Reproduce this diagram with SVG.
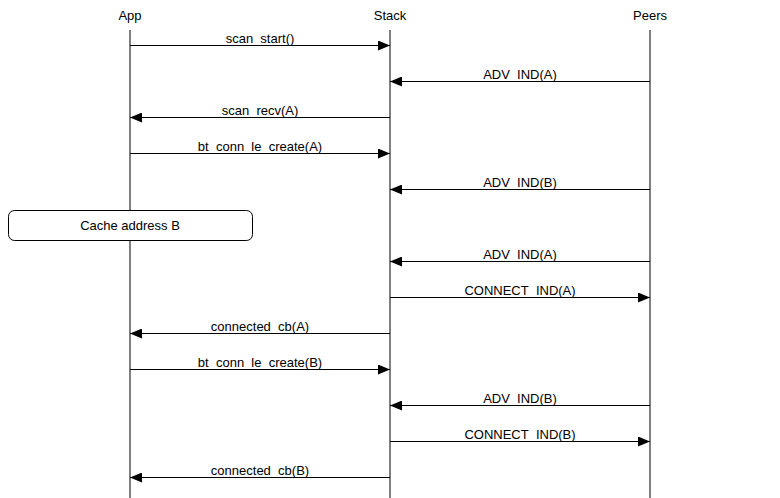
<svg xmlns="http://www.w3.org/2000/svg" width="780" height="498" viewBox="0 0 780 498">
<defs><marker id="ah" markerWidth="12" markerHeight="10" refX="12" refY="5" orient="auto" markerUnits="userSpaceOnUse"><path d="M0,0 L12,5 L0,10 Z" fill="#000"/></marker></defs>
<style>
text{font-family:"Liberation Sans",Arial,sans-serif;font-size:13px;fill:#000;text-anchor:middle}
.l{stroke:#000;stroke-width:1;fill:none}
.a{stroke:#000;stroke-width:1;marker-end:url(#ah)}
</style>
<rect width="780" height="498" fill="#fff"/>
<g id="App"><text x="130" y="20">App</text><line class="l" x1="130" y1="30" x2="130" y2="498"/></g>
<g id="Stack"><text x="390" y="20">Stack</text><line class="l" x1="390" y1="30" x2="390" y2="498"/></g>
<g id="Peers"><text x="650" y="20">Peers</text><line class="l" x1="650" y1="30" x2="650" y2="498"/></g>
<g id="box"><rect x="8.5" y="210.5" width="244" height="30" rx="6" fill="#fff" stroke="#000"/><text x="130" y="230">Cache address B</text></g>
<g id="connectors">
<line class="a" x1="130" y1="45.5" x2="390" y2="45.5"/><text x="260" y="43">scan_start()</text>
<line class="a" x1="650" y1="81.5" x2="390" y2="81.5"/><text x="520" y="79">ADV_IND(A)</text>
<line class="a" x1="390" y1="117.5" x2="130" y2="117.5"/><text x="260" y="115">scan_recv(A)</text>
<line class="a" x1="130" y1="153.5" x2="390" y2="153.5"/><text x="260" y="151">bt_conn_le_create(A)</text>
<line class="a" x1="650" y1="189.5" x2="390" y2="189.5"/><text x="520" y="187">ADV_IND(B)</text>
<line class="a" x1="650" y1="261.5" x2="390" y2="261.5"/><text x="520" y="259">ADV_IND(A)</text>
<line class="a" x1="390" y1="297.5" x2="650" y2="297.5"/><text x="520" y="295">CONNECT_IND(A)</text>
<line class="a" x1="390" y1="333.5" x2="130" y2="333.5"/><text x="260" y="331">connected_cb(A)</text>
<line class="a" x1="130" y1="369.5" x2="390" y2="369.5"/><text x="260" y="367">bt_conn_le_create(B)</text>
<line class="a" x1="650" y1="405.5" x2="390" y2="405.5"/><text x="520" y="403">ADV_IND(B)</text>
<line class="a" x1="390" y1="441.5" x2="650" y2="441.5"/><text x="520" y="439">CONNECT_IND(B)</text>
<line class="a" x1="390" y1="477.5" x2="130" y2="477.5"/><text x="260" y="475">connected_cb(B)</text>
</g>
</svg>
